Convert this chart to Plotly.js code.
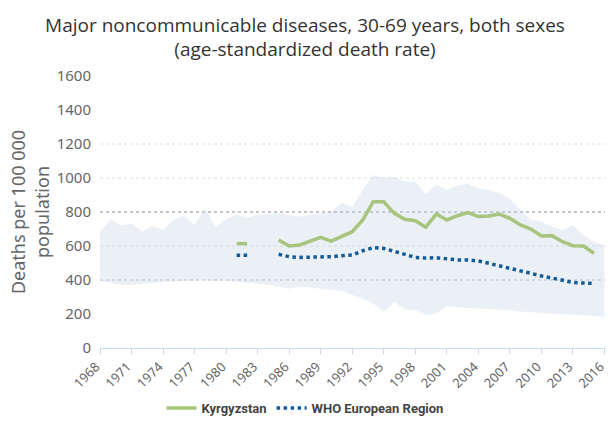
<!DOCTYPE html>
<html>
<head>
<meta charset="utf-8">
<script src="https://cdn.plot.ly/plotly-3.0.1.min.js"></script>
<style>html,body{margin:0;padding:0;background:#fff;}#chart{width:610px;height:421px;}</style>
</head>
<body>
<div id="chart"></div>
<script>
const years = [1968,1969,1970,1971,1972,1973,1974,1975,1976,1977,1978,1979,1980,1981,1982,1983,1984,1985,1986,1987,1988,1989,1990,1991,1992,1993,1994,1995,1996,1997,1998,1999,2000,2001,2002,2003,2004,2005,2006,2007,2008,2009,2010,2011,2012,2013,2014,2015,2016];
const bandUpper = [684,759,719,733,684,718,694,753,778,724,822,710,757,786,766,786,790,792,782,772,785,792,802,855,831,929,1018,998,1008,978,978,906,962,931,956,965,939,929,910,880,812,755,743,714,692,722,665,625,603];
const bandLower = [394,386,372,370,378,383,388,392,395,397,398,398,396,390,385,378,372,360,348,362,355,350,343,335,312,290,262,212,272,228,222,194,204,245,240,237,233,229,225,222,215,210,205,200,198,195,192,188,184];
const kyrgyzstan = [null,null,null,null,null,null,null,null,null,null,null,null,null,614,614,null,null,635,600,606,629,651,629,659,684,753,861,861,792,757,749,711,788,753,778,796,773,776,788,763,724,700,659,661,625,602,600,557,null];
const whoEurope = [null,null,null,null,null,null,null,null,null,null,null,null,null,545,545,null,null,551,537,533,533,533,537,543,547,572,590,586,571,551,533,529,531,524,518,518,512,498,482,469,453,439,424,410,396,386,382,380,null];
const xTicks = [1968,1971,1974,1977,1980,1983,1986,1989,1992,1995,1998,2001,2004,2007,2010,2013,2016];
const yTicks = [0,200,400,600,800,1000,1200,1400,1600];
const guideLevels = [400,600,800,1000,1200];
const guideColors = ['#b5b5b5','#dcdcdc','#8a8a8a','#dcdcdc','#dcdcdc'];

const traces = [
  {x: years, y: bandUpper, type: 'scatter', mode: 'lines', line: {width: 0, color: 'rgba(0,0,0,0)'}, showlegend: false, hoverinfo: 'skip'},
  {x: years, y: bandLower, type: 'scatter', mode: 'lines', line: {width: 0, color: 'rgba(0,0,0,0)'}, fill: 'tonexty', fillcolor: 'rgba(196,212,230,0.34)', showlegend: false, hoverinfo: 'skip'},
  {x: years, y: kyrgyzstan, type: 'scatter', mode: 'lines', name: 'Kyrgyzstan', line: {color: '#a8c47e', width: 3.5}, connectgaps: false},
  {x: years, y: whoEurope, type: 'scatter', mode: 'lines', name: 'WHO European Region', line: {color: '#145a96', width: 3.5, dash: 'dot'}, connectgaps: false}
];

const shapes = guideLevels.map((v, i) => ({
  type: 'line', xref: 'paper', x0: 0, x1: 1, yref: 'y', y0: v, y1: v,
  line: {color: guideColors[i], width: 1, dash: 'dot'}, layer: 'below'
}));

const layout = {
  width: 610, height: 421,
  margin: {l: 100, r: 5, t: 76, b: 73},
  paper_bgcolor: '#ffffff', plot_bgcolor: '#ffffff',
  title: {
    text: 'Major noncommunicable diseases, 30-69 years, both sexes<br>(age-standardized death rate)',
    font: {family: 'Open Sans, sans-serif', size: 19, color: '#333333'},
    x: 0.5, xanchor: 'center', y: 0.925, yanchor: 'top', yref: 'container'
  },
  xaxis: {
    range: [1968, 2016.05], tickvals: xTicks, ticktext: xTicks.map(String), tickangle: -45,
    showgrid: false, zeroline: false, showline: true, linecolor: '#c9d8e8', linewidth: 1,
    ticks: 'outside', ticklen: 5, tickcolor: '#c9d8e8', ticklabeloverflow: 'allow', automargin: false,
    ticklabelshift: -4,
    tickfont: {family: 'Noto Sans, sans-serif', size: 13, color: '#666666'}
  },
  yaxis: {
    range: [0, 1600], tickvals: yTicks, showgrid: false, zeroline: false, showline: false,
    ticks: '', ticklabelstandoff: 8,
    tickfont: {family: 'Noto Sans, sans-serif', size: 15, color: '#666666'},
    title: {text: 'Deaths per 100 000<br>population', font: {family: 'Noto Sans, sans-serif', size: 18, color: '#666666'}, standoff: 2}
  },
  shapes: shapes,
  showlegend: true,
  legend: {
    orientation: 'h', x: 0.5, xanchor: 'center', xref: 'container', y: 0.031, yanchor: 'middle', yref: 'container',
    font: {family: 'Roboto, sans-serif', size: 13, color: '#444444', weight: 'bold'},
    itemwidth: 30, traceorder: 'normal'
  }
};

Plotly.newPlot('chart', traces, layout, {displayModeBar: false, staticPlot: true});
</script>
</body>
</html>
